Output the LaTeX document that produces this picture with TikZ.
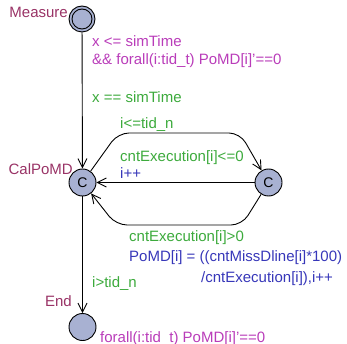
\documentclass[tikz,border=0pt]{standalone}
\usepackage{fontspec}
\setmainfont{Liberation Sans}
\usetikzlibrary{arrows.meta}
\definecolor{locname}{RGB}{153,51,102}
\definecolor{invcol}{RGB}{185,60,185}
\definecolor{guardcol}{RGB}{60,170,60}
\definecolor{updcol}{RGB}{55,55,185}
\definecolor{locfill}{RGB}{168,177,210}
\tikzset{
  loc/.style={circle,draw=black,line width=0.9pt,fill=locfill,minimum size=27pt,inner sep=0pt,font=\fontsize{14}{16}\selectfont},
  edge/.style={draw=black,line width=0.9pt,-{Straight Barb[length=9pt,width=9pt,line width=0.9pt]}},
  lbl/.style={anchor=base west,inner sep=0pt,font=\fontsize{15}{18}\selectfont},
  nm/.style={lbl,text=locname},
  inv/.style={lbl,text=invcol},
  grd/.style={lbl,text=guardcol},
  upd/.style={lbl,text=updcol}
}
\begin{document}
\begin{tikzpicture}[x=1pt,y=-1pt]
\useasboundingbox (0,0) rectangle (347,344);
% locations
\node[loc,minimum size=26pt] (measure) at (82,19) {};
\draw[line width=0.9pt] (measure.center) circle (10);
\node[loc] (cal) at (82.5,182.5) {C};
\node[loc] (c2) at (268.5,182.5) {C};
\node[loc] (end) at (82.5,327) {};
% waypoints
\coordinate (t1) at (118,133);
\coordinate (t2) at (240,133);
\coordinate (b1) at (242,225);
\coordinate (b2) at (116,225);
% edges
\draw[edge] (measure) -- (cal);
\draw[edge] (cal) -- (end);
\draw[edge,rounded corners=11pt] (cal) -- (t1) -- (t2) -- (c2);
\draw[edge] (c2) -- (cal);
\draw[edge,rounded corners=11pt] (c2) -- (b1) -- (b2) -- (cal);
% names
\node[nm,anchor=base east] (nmeasure) at (68,18) {Measure};
\node[nm,anchor=base east] (ncal) at (73,175) {CalPoMD};
\node[nm,anchor=base east] (nend) at (72,306) {End};
% labels
\node[inv] (i1) at (92,47) {x <= simTime};
\node[inv] (i2) at (92,65) {\&\& forall(i:tid\_t) PoMD[i]'==0};
\node[grd] (g1) at (92,103) {x == simTime};
\node[grd] (g2) at (120,129) {i<=tid\_n};
\node[grd] (g3) at (120,162) {cntExecution[i]<=0};
\node[upd] (u1) at (120,179) {i++};
\node[grd] (g4) at (129,241) {cntExecution[i]>0};
\node[upd] (u2) at (129,261) {PoMD[i] = ((cntMissDline[i]*100)};
\node[upd] (u3) at (201,282) {/cntExecution[i]),i++};
\node[grd] (g5) at (92,287) {i>tid\_n};
\node[inv] (i3) at (100,342) {forall(i:tid\_t) PoMD[i]'==0};
\end{tikzpicture}
\end{document}
